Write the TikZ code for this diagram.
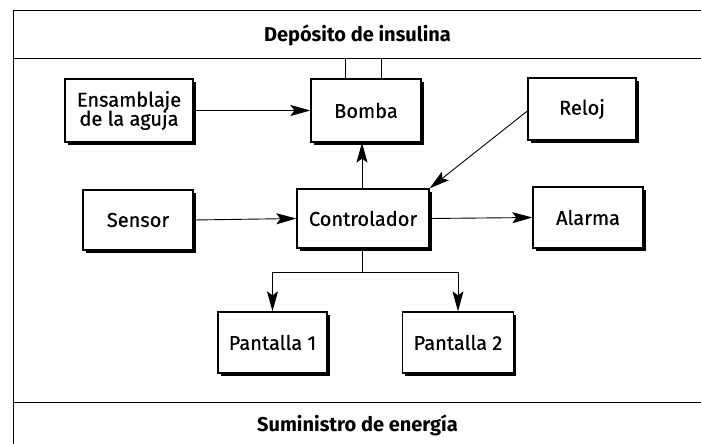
\documentclass[tikz,border=0pt]{standalone}
\usepackage{fontspec}
\setmainfont{Fira Sans}
\newfontfamily\blokfont{Fira Sans}[BoldFont={Fira Sans}, BoldFeatures={FakeBold=0.6}]
\usetikzlibrary{arrows.meta}

\begin{document}
\begin{tikzpicture}[x=1pt, y=-1pt,
	blok/.style={draw, line width=1.3pt, fill=white, font=\blokfont\bfseries\fontsize{20}{22}\selectfont, align=center,
		inner sep=0pt, preaction={fill=black, transform canvas={xshift=2.5pt, yshift=-2.5pt}}},
	band/.style={draw, line width=1pt, inner sep=0pt, font=\bfseries\fontsize{20}{22}\selectfont},
	pijl/.style={line width=0.9pt, -{Stealth[length=20pt, width=11pt, inset=4pt]}}]
	
	\useasboundingbox (0,0) rectangle (701,444);
	\fill[white] (0,0) rectangle (701,444);
	\draw[line width=1pt] (13,11) rectangle (702,448);
	
	% de twee banden boven en onder
	\node[band, minimum width=689pt, minimum height=48pt] (deposito) at (357.5,35) {Depósito de insulina};
	\node[band, minimum width=689pt, minimum height=46pt] (energia) at (357.5,425) {Suministro de energía};
	
	\node[blok, minimum width=128pt, minimum height=63pt] (aguja) at (129,110.5) {Ensamblaje\\[-3pt]de la aguja};
	\node[blok, minimum width=110pt, minimum height=63pt] (bomba) at (366,110.5) {Bomba};
	\node[blok, minimum width=108pt, minimum height=62pt] (reloj) at (582,109) {Reloj};
	\node[blok, minimum width=110pt, minimum height=60pt] (sensor) at (138,220) {Sensor};
	\node[blok, minimum width=132pt, minimum height=59pt] (ctrl) at (363,218.5) {Controlador};
	\node[blok, minimum width=110pt, minimum height=61pt] (alarma) at (588,217.5) {Alarma};
	\node[blok, minimum width=109pt, minimum height=61pt] (pant1) at (272.5,342.5) {Pantalla 1};
	\node[blok, minimum width=111pt, minimum height=61pt] (pant2) at (458,342.5) {Pantalla 2};
	
	\draw[line width=0.9pt] ([xshift=-21pt]bomba.north) -- ([xshift=-21pt]bomba.north |- deposito.south);
	\draw[line width=0.9pt] ([xshift=15pt]bomba.north) -- ([xshift=15pt]bomba.north |- deposito.south);
	
	\draw[pijl] (aguja.east) -- (bomba.west);
	\draw[pijl] ([xshift=-1pt]ctrl.north) -- ([xshift=-1pt]ctrl.north |- bomba.south);
	\draw[pijl] ([yshift=-2pt]reloj.west) -- (ctrl.north east);
	\draw[pijl] (sensor.east) -- (ctrl.west);
	\draw[pijl] (ctrl.east) -- (alarma.west);
	\draw[line width=0.9pt] ([xshift=-1pt]ctrl.south) -- ++(0,23.5) coordinate (bus);
	\draw[pijl] (bus) -| (pant1.north);
	\draw[pijl] (bus) -| (pant2.north);
	
\end{tikzpicture}
\end{document}
